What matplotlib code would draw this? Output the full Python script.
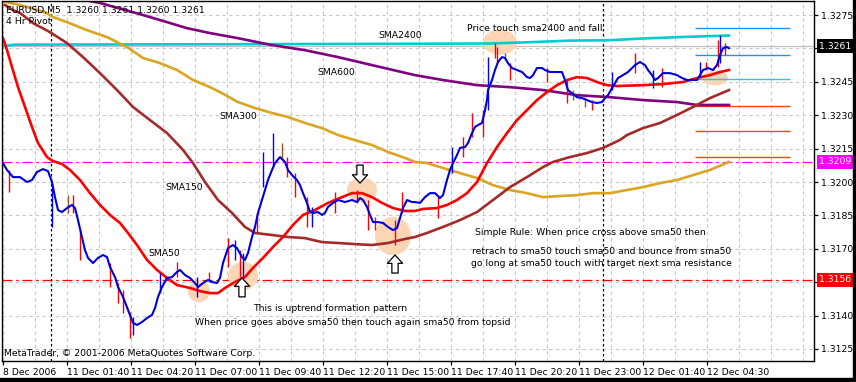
import matplotlib
matplotlib.use("Agg")
import matplotlib.pyplot as plt
import matplotlib.transforms as mtransforms
from matplotlib.patches import Ellipse, FancyArrowPatch, Rectangle

# EURUSD M5, x = bar index (5 min bars) from the left edge of the window
price_bar = [1.5, 3.5, 6.5, 10, 13.5, 16, 18.5, 21.5, 24, 26, 27.5, 29, 31, 33.5, 36, 37.5,
             39, 41, 42.5, 44, 46.5, 49, 51.5, 53.5, 55, 57.5, 59, 61.5, 64, 66.5, 68.5, 71,
             73.5, 76, 77.5, 79, 81, 83.5, 86, 88.5, 90, 92.5, 95, 97.5, 99, 101.5, 104, 106,
             108.5, 110, 111.5, 114, 116.5, 118.5, 121, 122.5, 124, 126, 127.5, 129, 131, 132.5,
             134, 136, 137.5, 140, 142.5, 144, 146, 148.5, 150, 151.5, 153.5, 155, 156.5, 159,
             161, 162.5, 164, 166.5, 169, 172.5, 176, 178.5, 180, 181.5, 183.5, 185, 186.5, 189,
             191.5, 194, 196.5, 198.5, 200, 201.5, 203.5, 206, 207.5, 210, 212.5, 215, 217.5, 220,
             221.5, 223.5, 225, 226.5, 228.5, 230, 232.5, 234, 236, 237.5, 239, 241, 242.5, 243.5,
             244, 246, 247.5, 249, 251, 252.5, 254, 256, 258.5, 261, 263.5, 265, 266.5, 268.5,
             271, 272.5, 275, 278.5, 281, 282.5, 284, 286, 288.5, 291, 293.5, 296, 298.5, 301,
             302.5, 304, 306, 307.5, 309, 311.5, 314, 316, 317.5, 320, 322.5, 324, 326, 327.5,
             329, 331.5, 335, 338.5, 341, 343.5, 346, 348.5, 350, 351.5, 354, 356.5, 358.5, 360,
             361.5, 363.5, 364.5]
price_close = [1.32085, 1.32054, 1.32022, 1.32022, 1.32000, 1.32009, 1.32045, 1.32058, 1.32049,
               1.32000, 1.31932, 1.31874, 1.31865, 1.31883, 1.31897, 1.31883, 1.31829, 1.31753,
               1.31694, 1.31659, 1.31636, 1.31659, 1.31672, 1.31663, 1.31618, 1.31573, 1.31528,
               1.31484, 1.31425, 1.31367, 1.31358, 1.31371, 1.31389, 1.31403, 1.31434, 1.31484,
               1.31528, 1.31569, 1.31573, 1.31596, 1.31605, 1.31582, 1.31569, 1.31546, 1.31528,
               1.31546, 1.31560, 1.31551, 1.31546, 1.31569, 1.31636, 1.31703, 1.31717, 1.31703,
               1.31663, 1.31650, 1.31681, 1.31753, 1.31798, 1.31861, 1.31919, 1.31964, 1.32009,
               1.32054, 1.32085, 1.32112, 1.32090, 1.32054, 1.32031, 1.32009, 1.31986, 1.31950,
               1.31906, 1.31865, 1.31861, 1.31865, 1.31852, 1.31861, 1.31888, 1.31906, 1.31919,
               1.31910, 1.31919, 1.31910, 1.31928, 1.31919, 1.31888, 1.31852, 1.31820, 1.31820,
               1.31816, 1.31798, 1.31784, 1.31793, 1.31838, 1.31883, 1.31919, 1.31910, 1.31910,
               1.31906, 1.31932, 1.31950, 1.31950, 1.31928, 1.31941, 1.32009, 1.32054, 1.32085,
               1.32121, 1.32153, 1.32157, 1.32175, 1.32220, 1.32247, 1.32256, 1.32265, 1.32323,
               1.32368, 1.32413, 1.32458, 1.32503, 1.32539, 1.32561, 1.32557, 1.32534, 1.32512,
               1.32503, 1.32494, 1.32471, 1.32467, 1.32480, 1.32512, 1.32512, 1.32503, 1.32494,
               1.32494, 1.32494, 1.32458, 1.32413, 1.32399, 1.32381, 1.32377, 1.32368, 1.32359,
               1.32355, 1.32359, 1.32377, 1.32390, 1.32422, 1.32444, 1.32467, 1.32480, 1.32494,
               1.32512, 1.32525, 1.32539, 1.32525, 1.32503, 1.32480, 1.32458, 1.32467, 1.32489,
               1.32489, 1.32480, 1.32467, 1.32458, 1.32458, 1.32458, 1.32480, 1.32503, 1.32512,
               1.32503, 1.32525, 1.32570, 1.32601, 1.32606, 1.32601]

# the longer high-low bars that stick out of the close line (r=red, b=blue, n=brown)
wick_bar = [4.5, 26, 34, 36.5, 40, 55, 59, 61.5, 65, 66.5, 80, 88.5, 98.5, 104.5, 114, 117.5,
            120, 121.5, 128.5, 131.5, 136.5, 141, 143.5, 147.5, 153.5, 156, 167.5, 178.5, 184,
            187.5, 197.5, 201, 219, 226, 231.5, 236, 241.5, 244, 247.5, 248.5, 252.5, 255,
            273.5, 283.5, 286.5, 292.5, 296, 306, 317.5, 326.5, 331, 350, 353, 359, 360, 362.5]
wick_low = [1.31955, 1.31798, 1.31861, 1.31861, 1.31650, 1.31528, 1.31457, 1.31412, 1.31299,
            1.31313, 1.31501, 1.31573, 1.31484, 1.31551, 1.31618, 1.31650, 1.31573, 1.31573,
            1.31771, 1.31977, 1.32067, 1.32099, 1.32022, 1.31932, 1.31798, 1.31798, 1.31861,
            1.31906, 1.31784, 1.31784, 1.31717, 1.31861, 1.31838, 1.32040, 1.32112, 1.32202,
            1.32202, 1.32323, 1.32557, 1.32534, 1.32548, 1.32458, 1.32449, 1.32355, 1.32368,
            1.32337, 1.32323, 1.32413, 1.32489, 1.32422, 1.32426, 1.32471, 1.32503, 1.32516,
            1.32534, 1.32570]
wick_high = [1.32054, 1.31995, 1.31941, 1.31941, 1.31784, 1.31636, 1.31546, 1.31515, 1.31416,
             1.31394, 1.31591, 1.31641, 1.31573, 1.31596, 1.31748, 1.31739, 1.31694, 1.31681,
             1.31861, 1.32135, 1.32220, 1.32175, 1.32112, 1.32040, 1.31932, 1.31888, 1.31955,
             1.31964, 1.31919, 1.31843, 1.31829, 1.31955, 1.31932, 1.32157, 1.32202, 1.32310,
             1.32323, 1.32561, 1.32624, 1.32606, 1.32579, 1.32534, 1.32512, 1.32458, 1.32413,
             1.32381, 1.32368, 1.32494, 1.32579, 1.32503, 1.32512, 1.32539, 1.32539, 1.32637,
             1.32660, 1.32624]
wick_kind = "rbnrrrrrrbbrbrrbrbrbbnrrrbrrrrrrrbrrrbrrnrrrnnrbrbrbrrbr"

sma50_bar = [1.5, 3.5, 6, 9, 12.5, 16, 19, 23.5, 26.5, 31, 35, 40, 45, 50, 55, 60, 64, 68.5, 73.5,
             78.5, 83.5, 88.5, 95, 100, 105, 109, 112.5, 117.5, 122.5, 126.5, 131.5, 136.5, 141.5,
             146.5, 151.5, 157.5, 164, 171, 176, 181, 186, 191, 196.5, 202.5, 207.5, 211.5, 218.5,
             223.5, 228.5, 233.5, 238.5, 243.5, 248.5, 253.5, 258.5, 263.5, 268.5, 273.5, 278.5,
             283.5, 288.5, 293.5, 298.5, 303.5, 308.5, 321.5, 331.5, 341.5, 348.5, 355, 360, 364.5]
sma50 = [1.32646, 1.32593, 1.32516, 1.32426, 1.32337, 1.32247, 1.32175, 1.32112, 1.32094, 1.32081,
         1.32054, 1.32009, 1.31950, 1.31897, 1.31852, 1.31816, 1.31771, 1.31717, 1.31650, 1.31605,
         1.31569, 1.31537, 1.31524, 1.31510, 1.31501, 1.31501, 1.31524, 1.31551, 1.31573, 1.31614,
         1.31659, 1.31708, 1.31753, 1.31807, 1.31852, 1.31874, 1.31906, 1.31932, 1.31950, 1.31950,
         1.31932, 1.31906, 1.31883, 1.31870, 1.31870, 1.31879, 1.31883, 1.31897, 1.31919, 1.31950,
         1.32000, 1.32085, 1.32157, 1.32220, 1.32278, 1.32323, 1.32368, 1.32404, 1.32435, 1.32458,
         1.32471, 1.32467, 1.32449, 1.32435, 1.32431, 1.32435, 1.32440, 1.32449, 1.32467, 1.32480,
         1.32494, 1.32503]

sma150_bar = [2.5, 6.5, 10, 16.5, 25, 33.5, 41.5, 50, 58.5, 66.5, 75, 83.5, 91.5, 96.5, 102.5, 109,
              116, 122.5, 127.5, 136, 144, 152.5, 161, 169, 177.5, 186, 194, 202.5, 207.5, 213.5,
              221.5, 230, 238.5, 246.5, 255, 263.5, 271.5, 276.5, 285, 293.5, 301.5, 310, 313.5,
              321.5, 330, 338.5, 346.5, 355, 364.5]
sma150 = [1.32795, 1.32772, 1.32759, 1.32714, 1.32673, 1.32624, 1.32561, 1.32489, 1.32413, 1.32337,
          1.32278, 1.32220, 1.32144, 1.32085, 1.32000, 1.31919, 1.31861, 1.31798, 1.31771, 1.31762,
          1.31753, 1.31748, 1.31730, 1.31726, 1.31721, 1.31717, 1.31726, 1.31744, 1.31753, 1.31771,
          1.31798, 1.31829, 1.31865, 1.31919, 1.31977, 1.32022, 1.32067, 1.32090, 1.32112, 1.32130,
          1.32153, 1.32189, 1.32211, 1.32242, 1.32265, 1.32301, 1.32337, 1.32377, 1.32413]

sma300_bar = [0.5, 10, 22.5, 26.5, 33.5, 43.5, 53.5, 63.5, 71.5, 80, 88.5, 96.5, 105, 111, 119,
              127.5, 136, 144, 152.5, 161, 169, 177.5, 186, 194, 202.5, 207.5, 213.5, 221.5, 230,
              238.5, 246.5, 255, 263.5, 271.5, 280, 288.5, 296.5, 305, 313.5, 321.5, 330, 338.5,
              346.5, 355, 364.5]
sma300 = [1.32813, 1.32795, 1.32763, 1.32741, 1.32718, 1.32682, 1.32651, 1.32606, 1.32557, 1.32534,
          1.32503, 1.32458, 1.32426, 1.32399, 1.32359, 1.32332, 1.32310, 1.32292, 1.32265, 1.32242,
          1.32211, 1.32188, 1.32166, 1.32135, 1.32108, 1.32090, 1.32085, 1.32063, 1.32040, 1.32018,
          1.31986, 1.31964, 1.31950, 1.31932, 1.31937, 1.31941, 1.31950, 1.31950, 1.31964, 1.31977,
          1.31995, 1.32009, 1.32031, 1.32054, 1.32090]

sma600_bar = [45, 50, 71.5, 83.5, 93.5, 105, 119, 136, 152.5, 169, 186, 207.5, 221.5, 238.5, 255,
              271.5, 288.5, 305, 321.5, 338.5, 348.5, 364.5]
sma600 = [1.32813, 1.32804, 1.32750, 1.32718, 1.32691, 1.32669, 1.32646, 1.32615, 1.32592, 1.32561,
          1.32525, 1.32480, 1.32458, 1.32435, 1.32426, 1.32413, 1.32390, 1.32381, 1.32368, 1.32359,
          1.32346, 1.32346]

sma2400_bar = [1, 7.5, 122.5, 245, 265, 285, 305, 320, 340, 364.5]
sma2400 = [1.32610, 1.32617, 1.32619, 1.32622, 1.32628, 1.32635, 1.32637, 1.32644, 1.32651, 1.32658]

pivot_levels = [1.32690, 1.32570, 1.32461, 1.32340, 1.32227, 1.32112]
pivot_colors = ["#1E90FF", "#1E90FF", "#22C8E8", "#FF4500", "#FF4500", "#FF4500"]

last_price = 1.3261
magenta_level = 1.3209
red_level = 1.3156
day_breaks = [25.5, 301.5]

xtick_bars = [1.5, 33.5, 65.5, 97.5, 129.5, 161.5, 193.5, 225.5, 257.5, 289.5, 321.5, 353.5]
xtick_labels = ["8 Dec 2006", "11 Dec 01:40", "11 Dec 04:20", "11 Dec 07:00", "11 Dec 09:40",
                "11 Dec 12:20", "11 Dec 15:00", "11 Dec 17:40", "11 Dec 20:20", "11 Dec 23:00",
                "12 Dec 01:40", "12 Dec 04:30"]
ytick_vals = [1.3125, 1.3140, 1.3155, 1.3170, 1.3185, 1.3200, 1.3215, 1.3230, 1.3245, 1.3260, 1.3275]
# 1.3260 and 1.3155 sit under the price boxes, so MT4 shows no text there
ytick_hidden = [1.3260, 1.3155]

FS = 6.7
W, H = 856, 382

fig = plt.figure(figsize=(W / 100, H / 100), dpi=100, facecolor="white")
ax = fig.add_axes([2 / W, 21 / H, 812 / W, 360 / H])
ax.set_xlim(1, 407)
ax.set_ylim(1.31196, 1.32813)

# grid
for xb in range(0, 26):
    ax.axvline(1.5 + 16 * xb, color="#C8C8C8", lw=0.8, ls=(0, (3, 3)), zorder=0.5)
for yv in ytick_vals:
    ax.axhline(yv, color="#C8C8C8", lw=0.8, ls=(0, (3, 3)), zorder=0.5)

# levels
ax.axhline(last_price, color="#C0C0C0", lw=0.9, zorder=0.6)
ax.axhline(magenta_level, color="#FF00FF", lw=0.9, ls=(0, (8, 3, 2, 3)), zorder=0.6)
ax.axhline(red_level, color="#FF0000", lw=0.9, ls=(0, (8, 3, 2, 3)), zorder=0.6)
for xb in day_breaks:
    ax.axvline(xb, color="black", lw=0.9, ls=(0, (2, 2)), zorder=0.7)
for lvl, col in zip(pivot_levels, pivot_colors):
    ax.hlines(lvl, 347.5, 395, color=col, lw=1.0, zorder=1.5)

# highlight blobs
blob_color = "#FCD5B4"
for (cx, cy, w, h) in [(99.5, 1.31510, 11, 0.00099), (121.5, 1.31578, 15, 0.00126),
                       (181, 1.31964, 15, 0.00112), (196.5, 1.31757, 18, 0.00171),
                       (250, 1.32628, 17, 0.00112), (357.5, 1.32467, 13, 0.00067)]:
    ax.add_patch(Ellipse((cx, cy), w, h, color=blob_color, lw=0, zorder=1))

# moving averages
ax.plot(sma2400_bar, sma2400, color="#00CED1", lw=1.9, zorder=2)
ax.plot(sma600_bar, sma600, color="#800080", lw=1.9, zorder=2)
ax.plot(sma300_bar, sma300, color="#DAA520", lw=1.9, zorder=2)
ax.plot(sma150_bar, sma150, color="#A52A2A", lw=1.9, zorder=2)
ax.plot(sma50_bar, sma50, color="#FF0000", lw=1.9, zorder=2)

# price
kind_colors = {"r": "#FF0000", "b": "#0000FF", "n": "#A0522D"}
ax.vlines(wick_bar, wick_low, wick_high, colors=[kind_colors[k] for k in wick_kind], lw=1.0, zorder=2.5)
ax.plot(price_bar, price_close, color="#0000DD", lw=1.5, zorder=3)

# labels on the chart
ax.text(189, 1.32660, "SMA2400", fontsize=FS, va="center", zorder=4)
ax.text(158.5, 1.32494, "SMA600", fontsize=FS, va="center", zorder=4)
ax.text(109.5, 1.32292, "SMA300", fontsize=FS, va="center", zorder=4)
ax.text(82.5, 1.31977, "SMA150", fontsize=FS, va="center", zorder=4)
ax.text(74, 1.31677, "SMA50", fontsize=FS, va="center", zorder=4)
ax.text(233.5, 1.32691, "Price touch sma2400 and fall", fontsize=FS, va="center", zorder=4)
ax.text(237.5, 1.31771, "Simple Rule: When price cross above sma50 then", fontsize=FS, va="center", zorder=4)
ax.text(236, 1.31686, "retrach to sma50 touch sma50 and bounce from sma50", fontsize=FS, va="center", zorder=4)
ax.text(235.5, 1.31632, "go long at sma50 touch with target next sma resistance", fontsize=FS, va="center", zorder=4)
ax.text(126.5, 1.31434, "This is uptrend formation pattern", fontsize=FS, va="center", zorder=4)
ax.text(97.5, 1.31367, "When price goes above sma50 then touch again sma50 from topsid",
        fontsize=FS, va="center", zorder=4)

# hollow arrows
for (xa, y0, y1) in [(121, 1.31484, 1.31569), (197.5, 1.31591, 1.31672), (180, 1.32076, 1.31995)]:
    ax.add_patch(FancyArrowPatch((xa, y0), (xa, y1),
                                 arrowstyle="simple,head_length=0.6,head_width=1.1,tail_width=0.45",
                                 mutation_scale=10, fc="white", ec="black", lw=0.9,
                                 shrinkA=0, shrinkB=0, zorder=4))

# header / footer text
ax.text(4 / 812, 1 - 9 / 360, "EURUSD,M5  1.3260 1.3261 1.3260 1.3261", transform=ax.transAxes,
        fontsize=FS, va="center", zorder=4)
ax.text(4 / 812, 1 - 20 / 360, "4 Hr Pivot", transform=ax.transAxes, fontsize=FS, va="center", zorder=4)
ax.text(2 / 812, 8 / 360, "MetaTrader, © 2001-2006 MetaQuotes Software Corp.", transform=ax.transAxes,
        fontsize=FS, va="center", zorder=4)

# axes
for side in ["left", "top", "right", "bottom"]:
    ax.spines[side].set_color("black")
    ax.spines[side].set_linewidth(1.0)
ax.yaxis.tick_right()
ax.set_yticks(ytick_vals)
ax.set_yticklabels(["" if v in ytick_hidden else f"{v:.4f}" for v in ytick_vals], fontsize=FS)
ax.set_xticks(xtick_bars)
ax.set_xticklabels(xtick_labels, fontsize=FS, ha="left")
ax.tick_params(axis="both", direction="out", length=3, width=0.9, pad=2, colors="black")

blend = mtransforms.blended_transform_factory(ax.transAxes, ax.transData)
for lvl, txt, bg in [(last_price, "1.3261", "black"), (magenta_level, "1.3209", "#FF00FF"),
                     (red_level, "1.3156", "#FF0000")]:
    ax.text(1 + 5 / 812, lvl, txt, transform=blend, fontsize=FS, color="white", va="center",
            ha="left", clip_on=False, zorder=5,
            bbox=dict(boxstyle="square,pad=0.25", fc=bg, ec="none"))

# black edges of the screenshot
fig.add_artist(Rectangle((0, 0), 1, 4 / H, transform=fig.transFigure, color="black"))
fig.add_artist(Rectangle((853 / W, 0), 3 / W, 1, transform=fig.transFigure, color="black"))

fig.savefig("out.png", dpi=100, facecolor="white")
